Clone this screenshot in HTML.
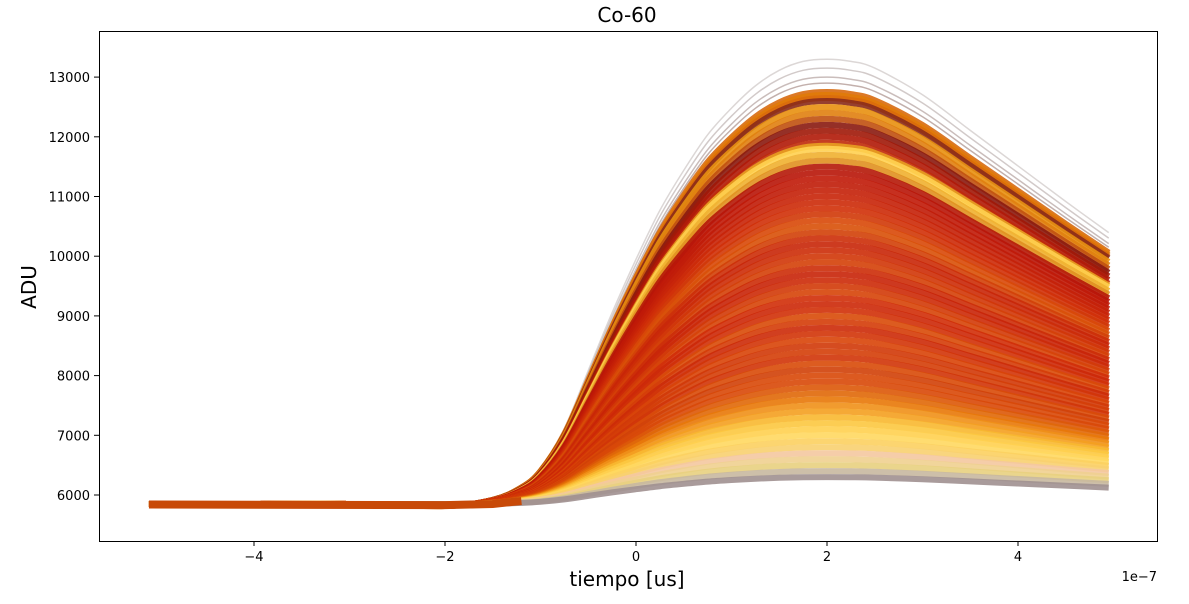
<!DOCTYPE html>
<html><head><meta charset="utf-8"><style>
body{margin:0;background:#fff;}
svg{display:block;font-family:"DejaVu Sans","Liberation Sans",sans-serif;}
</style></head><body>
<svg id="chart" width="1189" height="604" viewBox="0 0 1189 604">
<text x="627" y="22" font-size="20" text-anchor="middle">Co-60</text>
<defs><clipPath id="clip"><rect x="99" y="31" width="1058" height="510"/></clipPath></defs>
<g id="series" clip-path="url(#clip)"></g>
<rect x="99.5" y="31.5" width="1058" height="510" fill="none" stroke="#000" stroke-width="1"/>
<g id="xt"></g>
<g id="yt"></g>
<text x="627" y="586" font-size="20" text-anchor="middle">tiempo [us]</text>
<text x="1157" y="581" font-size="13" text-anchor="end">1e−7</text>
<text transform="translate(36,287) rotate(-90)" font-size="20" text-anchor="middle">ADU</text>
</svg>
<script>
const times=[-5.1,-4,-3,-2,-1.5,-1.2,-1,-0.75,-0.5,-0.25,0,0.25,0.5,0.75,1,1.25,1.5,1.75,2,2.25,2.5,3,3.5,4,4.5,4.95];
const shape=[0,0,0,-0.005,0.01,0.04,0.08,0.17,0.3,0.43,0.55,0.66,0.75,0.83,0.89,0.94,0.975,0.995,1.0,0.995,0.98,0.92,0.84,0.76,0.68,0.61];
const baseline=5850;
const peaks=[13300,13150,13000,12900,12750,12700,12650,12600,12500,12400,12300,12200,12100,12000,11900,11850,11800,11700,11600,11500,11400,11300,11200,11100,11000,10900,10800,10700,10600,10500,10400,10300,10200,10100,10000,9900,9800,9700,9600,9500,9400,9300,9200,9100,9000,8900,8800,8700,8600,8500,8400,8300,8200,8100,8000,7900,7800,7700,7600,7500,7400,7300,7200,7100,7000,6900,6800,6700,6600,6500,6400,6300];
const colors=["#a89a98","#8e7a78","#7a5a55","#6a3a30","#d86a10","#e07a08","#d96a0a","#8a2a18","#e89010","#e08010","#c05010","#8a1a10","#a01808","#b01a08","#c02a0a","#e8a020","#ffd050","#f0b030","#e09020","#b51808","#b81508","#c01a08","#c01c08","#c42008","#c82408","#cc2a08","#d03008","#d03808","#d84808","#d85008","#d24008","#cc2e08","#c82608","#cc2c08","#d03608","#d44008","#cc2c08","#c82408","#cc2a08","#d23a08","#d64408","#d02e08","#cc2808","#d03008","#d84a08","#d43c08","#cc2a08","#d23408","#d84408","#d03808","#d43e08","#d03408","#d84a08","#d04008","#d84808","#d84808","#dc5808","#e06808","#e87808","#f09018","#f4a020","#f8b830","#fcc840","#ffd050","#ffd860","#fcd060","#f8d070","#f4c8a0","#f0d090","#e8d080","#c8b8a0","#a09090"];
const X=t=>636+t*95.5, Y=v=>495-(v-6000)*0.0597;
const NS="http://www.w3.org/2000/svg";
function pathFor(pk){
  const amp=pk-baseline;
  const pts=times.map((t,i)=>[X(t),Y(baseline+shape[i]*amp)]);
  let d="M"+pts[0][0]+","+pts[0][1];
  for(let i=0;i<pts.length-1;i++){
    const p0=pts[Math.max(0,i-1)],p1=pts[i],p2=pts[i+1],p3=pts[Math.min(pts.length-1,i+2)];
    const c1=[p1[0]+(p2[0]-p0[0])/6,p1[1]+(p2[1]-p0[1])/6];
    const c2=[p2[0]-(p3[0]-p1[0])/6,p2[1]-(p3[1]-p1[1])/6];
    d+=" C"+c1.join(",")+" "+c2.join(",")+" "+p2.join(",");
  }
  return d;
}
const g=document.getElementById("series");
peaks.forEach((pk,i)=>{
  const p=document.createElementNS(NS,"path");
  p.setAttribute("d",pathFor(pk));
  p.setAttribute("fill","none");
  p.setAttribute("stroke",colors[i]);
  p.setAttribute("stroke-width",i<4?1.5:6);
  p.setAttribute("stroke-opacity",i<4?0.4:0.9);
  
  
  g.appendChild(p);
});
const bl=document.createElementNS(NS,"path");
bl.setAttribute("d","M"+X(-5.1)+","+Y(5840)+" L"+X(-2)+","+Y(5830)+" L"+X(-1.5)+","+Y(5850)+" L"+X(-1.2)+","+Y(5900));
bl.setAttribute("stroke","#c84a08");bl.setAttribute("stroke-width","8");bl.setAttribute("fill","none");


g.appendChild(bl);
const xticks=[-4,-2,0,2,4], xlabels=["−4","−2","0","2","4"];
const yticks=[6000,7000,8000,9000,10000,11000,12000,13000];
const xt=document.getElementById("xt"), yt=document.getElementById("yt");
xticks.forEach((v,i)=>{
  const l=document.createElementNS(NS,"line");
  l.setAttribute("x1",X(v));l.setAttribute("x2",X(v));l.setAttribute("y1",541);l.setAttribute("y2",546);l.setAttribute("stroke","#000");
  
  
  xt.appendChild(l);
  const t=document.createElementNS(NS,"text");
  t.setAttribute("x",X(v));t.setAttribute("y",561);t.setAttribute("font-size","13");t.setAttribute("text-anchor","middle");
  t.textContent=xlabels[i];
  
  
  xt.appendChild(t);
});
yticks.forEach(v=>{
  const l=document.createElementNS(NS,"line");
  l.setAttribute("x1",94);l.setAttribute("x2",99);l.setAttribute("y1",Y(v));l.setAttribute("y2",Y(v));l.setAttribute("stroke","#000");
  
  
  yt.appendChild(l);
  const t=document.createElementNS(NS,"text");
  t.setAttribute("x",90);t.setAttribute("y",Y(v)+5);t.setAttribute("font-size","13");t.setAttribute("text-anchor","end");
  t.textContent=v;
  
  
  yt.appendChild(t);
});
</script>
</body></html>
